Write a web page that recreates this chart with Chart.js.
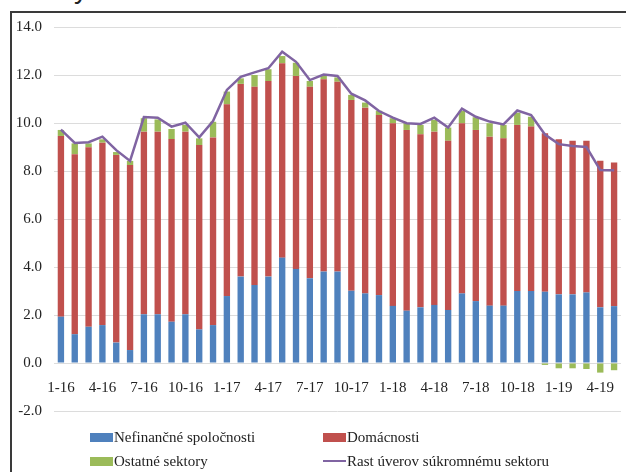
<!DOCTYPE html>
<html>
<head>
<meta charset="utf-8">
<script src="https://cdn.jsdelivr.net/npm/chart.js@4.4.1/dist/chart.umd.min.js"></script>
<style>
  html, body { margin: 0; padding: 0; background: #fff; overflow: hidden; }
  #wrap { position: relative; width: 626px; height: 472px; overflow: hidden; }
  #title { position: absolute; left: 15px; top: -30px; font: 28px "Liberation Sans", Arial, sans-serif; color: #222; white-space: nowrap; line-height: 38px; }
  #frame { position: absolute; left: 10px; top: 11px; width: 700px; height: 600px; border-left: 2px solid #3a3a3a; border-top: 2px solid #3a3a3a; }
  #c { position: absolute; left: 0; top: 0; }
  .lg { position: absolute; font: 15px "Liberation Serif", "Times New Roman", serif; color: #222; white-space: nowrap; display: flex; align-items: center; height: 18px; }
  .sw { display: inline-block; width: 23px; height: 9px; margin-right: 1px; }
  .ln { display: inline-block; width: 23px; height: 2px; margin-right: 1px; }
</style>
</head>
<body>
<div id="wrap">
  <div id="title">Úvery súkromnému sektoru</div>
  <div id="frame"></div>
  <canvas id="c" width="626" height="472"></canvas>
  <div id="legend"></div>
</div>
<script>
// Months from 1-16 to 5-19
const months = [
  '1-16','2-16','3-16','4-16','5-16','6-16','7-16','8-16','9-16','10-16','11-16','12-16',
  '1-17','2-17','3-17','4-17','5-17','6-17','7-17','8-17','9-17','10-17','11-17','12-17',
  '1-18','2-18','3-18','4-18','5-18','6-18','7-18','8-18','9-18','10-18','11-18','12-18',
  '1-19','2-19','3-19','4-19','5-19'
];

// Contributions to loan growth (p.b.)
const nefinancne = [
  1.93, 1.20, 1.51, 1.58, 0.85, 0.54, 2.03, 2.03, 1.72, 2.03, 1.40, 1.58,
  2.79, 3.60, 3.25, 3.60, 4.39, 3.92, 3.53, 3.81, 3.81, 3.01, 2.90, 2.83,
  2.38, 2.18, 2.32, 2.42, 2.21, 2.90, 2.58, 2.39, 2.39, 3.00, 3.00, 2.97,
  2.86, 2.86, 2.94, 2.32, 2.37
];
const domacnosti = [
  7.53, 7.50, 7.48, 7.60, 7.82, 7.71, 7.61, 7.61, 7.61, 7.61, 7.68, 7.82,
  7.99, 8.03, 8.26, 8.15, 8.10, 8.04, 7.98, 8.01, 7.91, 7.95, 7.74, 7.50,
  7.61, 7.53, 7.21, 7.22, 7.05, 7.09, 7.13, 7.04, 6.97, 6.92, 6.85, 6.60,
  6.46, 6.40, 6.32, 6.11, 5.98
];
const ostatne = [
  0.25, 0.45, 0.16, 0.14, 0.12, 0.17, 0.56, 0.51, 0.42, 0.28, 0.28, 0.65,
  0.53, 0.23, 0.49, 0.49, 0.30, 0.55, 0.24, 0.14, 0.18, 0.21, 0.21, 0.18,
  0.21, 0.28, 0.39, 0.49, 0.55, 0.52, 0.53, 0.56, 0.56, 0.51, 0.41, -0.08,
  -0.22, -0.22, -0.25, -0.40, -0.30
];
// Total private-sector loan growth (%)
const rastUverov = [
  9.72, 9.17, 9.20, 9.43, 8.87, 8.42, 10.25, 10.22, 9.85, 10.01, 9.40, 10.08,
  11.38, 11.92, 12.11, 12.28, 12.97, 12.55, 11.79, 12.02, 11.96, 11.22, 10.94, 10.50,
  10.22, 9.99, 9.96, 10.22, 9.81, 10.60, 10.26, 10.06, 9.94, 10.52, 10.33, 9.52,
  9.12, 9.04, 9.00, 8.04, 8.03
];

const C_BLUE = '#4F81BD', C_RED = '#C0504D', C_GREEN = '#9BBB59', C_LINE = '#8064A2';
const serif = '"Liberation Serif", "Times New Roman", serif';

const chart = new Chart(document.getElementById('c'), {
  type: 'bar',
  data: {
    labels: months,
    datasets: [
      { type: 'line', label: 'Rast úverov súkromnému sektoru', data: rastUverov, stack: 'total',
        borderColor: C_LINE, backgroundColor: C_LINE, borderWidth: 2.5, pointRadius: 0,
        tension: 0, order: 0 },
      { label: 'Nefinančné spoločnosti', data: nefinancne, backgroundColor: C_BLUE, stack: 's', order: 1 },
      { label: 'Domácnosti', data: domacnosti, backgroundColor: C_RED, stack: 's', order: 1 },
      { label: 'Ostatné sektory', data: ostatne, backgroundColor: C_GREEN, stack: 's', order: 1 }
    ]
  },
  options: {
    responsive: false,
    animation: false,
    layout: { padding: { left: 10, right: 5, top: 27, bottom: 61 } },
    datasets: { bar: { categoryPercentage: 1, barPercentage: 0.46 } },
    plugins: { legend: { display: false }, tooltip: { enabled: false } },
    scales: {
      x: {
        stacked: true,
        position: { y: 0 },
        grid: { display: false },
        border: { display: false },
        ticks: {
          autoSkip: false, maxRotation: 0, minRotation: 0, padding: 8,
          color: '#222', font: { family: serif, size: 15 },
          callback: (v, i) => (i % 3 === 0 ? months[i] : '')
        }
      },
      y: {
        stacked: true,
        min: -2, max: 14,
        afterFit: (s) => { s.width = 44; },
        grid: { color: '#dcdcdc', lineWidth: 1, drawTicks: false },
        border: { display: false },
        ticks: {
          stepSize: 2, padding: 12, color: '#222',
          font: { family: serif, size: 15 },
          callback: (v) => v.toFixed(1)
        }
      }
    }
  }
});

// Legend in two columns, built from the chart's datasets
const legendPos = [
  { ds: 1, left: 90, top: 428 },
  { ds: 2, left: 323, top: 428 },
  { ds: 3, left: 90, top: 452 },
  { ds: 0, left: 323, top: 452 }
];
const legendEl = document.getElementById('legend');
legendPos.forEach(p => {
  const ds = chart.data.datasets[p.ds];
  const item = document.createElement('div');
  item.className = 'lg';
  item.style.left = p.left + 'px';
  item.style.top = p.top + 'px';
  const mark = document.createElement('span');
  mark.className = ds.type === 'line' ? 'ln' : 'sw';
  mark.style.background = ds.type === 'line' ? ds.borderColor : ds.backgroundColor;
  item.appendChild(mark);
  item.appendChild(document.createTextNode(ds.label));
  legendEl.appendChild(item);
});
</script>
</body>
</html>
